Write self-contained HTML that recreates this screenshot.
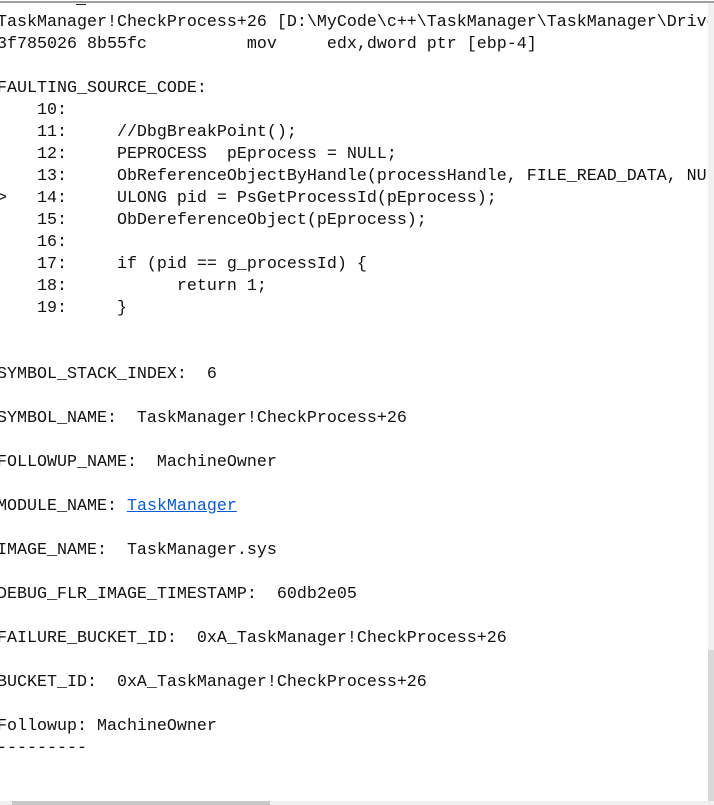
<!DOCTYPE html>
<html><head><meta charset="utf-8"><style>
html,body{margin:0;padding:0;width:714px;height:805px;overflow:hidden;background:#fff;}
#top{position:absolute;left:0;top:0;width:714px;height:3px;background:#fff;border-bottom:2px solid #a0a0a0;box-sizing:border-box;}
#clip{position:absolute;left:0;top:0;width:708px;height:805px;overflow:hidden;}
pre{position:absolute;left:-3px;top:12px;margin:0;font-family:"Liberation Mono",monospace;font-size:16.67px;line-height:22px;color:#111;}
a{color:#0a5bd0;text-decoration:underline;}
#vs{position:absolute;right:0;top:3px;width:6px;height:802px;background:#f0f0f0;}
#vs2{position:absolute;right:0;top:650px;width:6px;height:155px;background:#d8d8d8;}
#hs{position:absolute;left:0;bottom:0;width:714px;height:4px;background:#f0f0f0;}
#hs2{position:absolute;left:12px;bottom:0;width:258px;height:4px;background:#c8c8c8;}
#us{position:absolute;left:76px;top:4px;width:10px;height:1px;background:#222;}
</style></head><body>
<div id="top"></div>
<div id="us"></div>
<div id="clip"><pre>TaskManager!CheckProcess+26 [D:\MyCode\c++\TaskManager\TaskManager\Driver.c @ 14]
3f785026 8b55fc          mov     edx,dword ptr [ebp-4]

FAULTING_SOURCE_CODE:  
    10: 
    11:     //DbgBreakPoint();
    12:     PEPROCESS  pEprocess = NULL;
    13:     ObReferenceObjectByHandle(processHandle, FILE_READ_DATA, NULL
&gt;   14:     ULONG pid = PsGetProcessId(pEprocess);
    15:     ObDereferenceObject(pEprocess);
    16: 
    17:     if (pid == g_processId) {
    18:           return 1;
    19:     }


SYMBOL_STACK_INDEX:  6

SYMBOL_NAME:  TaskManager!CheckProcess+26

FOLLOWUP_NAME:  MachineOwner

MODULE_NAME: <a>TaskManager</a>

IMAGE_NAME:  TaskManager.sys

DEBUG_FLR_IMAGE_TIMESTAMP:  60db2e05

FAILURE_BUCKET_ID:  0xA_TaskManager!CheckProcess+26

BUCKET_ID:  0xA_TaskManager!CheckProcess+26

Followup: MachineOwner
---------
</pre></div>
<div id="vs"></div><div id="vs2"></div>
<div id="hs"></div><div id="hs2"></div>
</body></html>
